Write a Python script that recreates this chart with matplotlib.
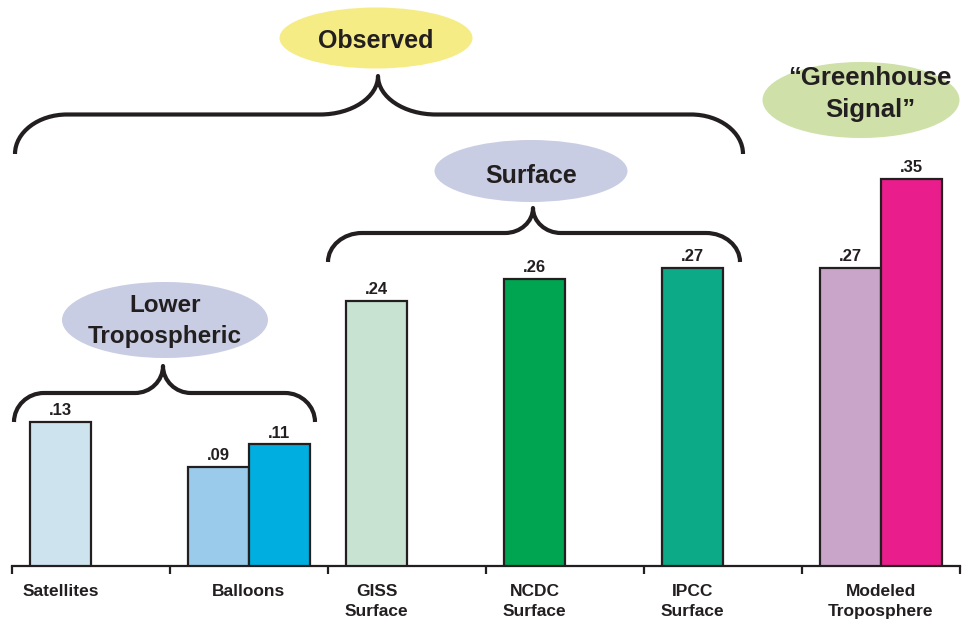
import matplotlib
matplotlib.use("Agg")
import matplotlib.pyplot as plt
from matplotlib.patches import Ellipse, PathPatch
from matplotlib.path import Path

plt.rcParams["font.family"] = ["Liberation Sans", "DejaVu Sans"]
plt.rcParams["font.weight"] = "bold"

INK = "#231f20"

# Trend values (degrees C per decade) per group; one or two bars per group
groups = ["Satellites", "Balloons", "GISS\nSurface", "NCDC\nSurface", "IPCC\nSurface", "Modeled\nTroposphere"]
first_vals = [0.13, 0.09, 0.24, 0.26, 0.27, 0.27]
second_vals = [None, 0.11, None, None, None, 0.35]
first_colors = ["#cde4ee", "#9acbea", "#c8e3d2", "#00a551", "#0caa86", "#c9a6c9"]
second_colors = [None, "#00aee0", None, None, None, "#e91e8c"]
value_labels_1 = [".13", ".09", ".24", ".26", ".27", ".27"]
value_labels_2 = [None, ".11", None, None, None, ".35"]

W, H = 964, 621
fig = plt.figure(figsize=(W / 100, H / 100), dpi=100)
fig.patch.set_facecolor("white")

px_per_unit = 1105.0
base_px = 566
ax = fig.add_axes([12 / W, (H - base_px) / H, 948 / W, base_px / H])
ax.set_xlim(0, len(groups))
ax.set_ylim(0, base_px / px_per_unit)

bw = 0.386
off = 0.114
for i in range(len(groups)):
    x1 = i + off
    ax.bar(x1, first_vals[i], width=bw, align="edge", color=first_colors[i],
           edgecolor=INK, linewidth=1.6, zorder=3)
    ax.annotate(value_labels_1[i], (x1 + bw / 2, first_vals[i]), xytext=(0, 5),
                textcoords="offset points", ha="center", va="baseline",
                fontsize=12, fontweight="bold", color=INK)
    centre = x1 + bw / 2
    if second_vals[i] is not None:
        x2 = x1 + bw
        ax.bar(x2, second_vals[i], width=bw, align="edge", color=second_colors[i],
               edgecolor=INK, linewidth=1.6, zorder=3)
        ax.annotate(value_labels_2[i], (x2 + bw / 2, second_vals[i]), xytext=(0, 5),
                    textcoords="offset points", ha="center", va="baseline",
                    fontsize=12, fontweight="bold", color=INK)
        centre = x1 + bw
    ax.text(centre, -0.0165, groups[i], ha="center", va="top", fontsize=12.5,
            fontweight="bold", color=INK, linespacing=1.4)

for s in ["top", "right", "left"]:
    ax.spines[s].set_visible(False)
ax.spines["bottom"].set_linewidth(1.6)
ax.spines["bottom"].set_color(INK)
ax.set_yticks([])
ax.set_xticks(range(len(groups) + 1))
ax.set_xticklabels([])
ax.tick_params(axis="x", length=6, width=1.6, color=INK)
ax.patch.set_visible(False)

# Annotation layer in pixel units (y grows downward)
ov = fig.add_axes([0, 0, 1, 1])
ov.set_xlim(0, W)
ov.set_ylim(H, 0)
ov.axis("off")
ov.patch.set_visible(False)


def brace(x0, x1, xt, yh, ye, yt, r, rt):
    k = 0.55
    verts = [
        (x0, ye),
        (x0, ye - (ye - yh) * k), (x0 + r * (1 - k), yh), (x0 + r, yh),
        (xt - rt, yh),
        (xt - rt * 0.45, yh), (xt, yh - (yh - yt) * 0.45), (xt, yt),
        (xt, yh - (yh - yt) * 0.45), (xt + rt * 0.45, yh), (xt + rt, yh),
        (x1 - r, yh),
        (x1 - r * (1 - k), yh), (x1, ye - (ye - yh) * k), (x1, ye),
    ]
    codes = [Path.MOVETO] + [Path.CURVE4] * 3 + [Path.LINETO] + [Path.CURVE4] * 6 + \
            [Path.LINETO] + [Path.CURVE4] * 3
    ov.add_patch(PathPatch(Path(verts, codes), fill=False, edgecolor=INK,
                           linewidth=3.0, capstyle="butt", joinstyle="round"))


brace(15, 743, 378, 114.5, 154, 76, 52, 58)
brace(328, 740, 533, 233, 262, 208, 34, 28)
brace(14, 315, 163, 393, 422, 366, 30, 28)

ellipses = [
    ((376, 38), 193, 61, "#f5ec86"),
    ((531, 171), 193, 62, "#c9cde3"),
    ((165, 320), 206, 76, "#c9cde3"),
    ((861, 100), 197, 76, "#cfe1a9"),
]
for (cx, cy), ew, eh, col in ellipses:
    ov.add_patch(Ellipse((cx, cy), ew, eh, facecolor=col, edgecolor="none"))

ov.text(376, 48, "Observed", ha="center", va="baseline", fontsize=18, color=INK)
ov.text(531, 183, "Surface", ha="center", va="baseline", fontsize=18, color=INK)
ov.text(165, 312, "Lower", ha="center", va="baseline", fontsize=17.5, color=INK)
ov.text(165, 343, "Tropospheric", ha="center", va="baseline", fontsize=17.5, color=INK)
ov.text(870, 85, "\u201cGreenhouse", ha="center", va="baseline", fontsize=18.5, color=INK)
ov.text(870, 117, "Signal\u201d", ha="center", va="baseline", fontsize=18.5, color=INK)

fig.savefig("out.png", dpi=100, facecolor="white")
